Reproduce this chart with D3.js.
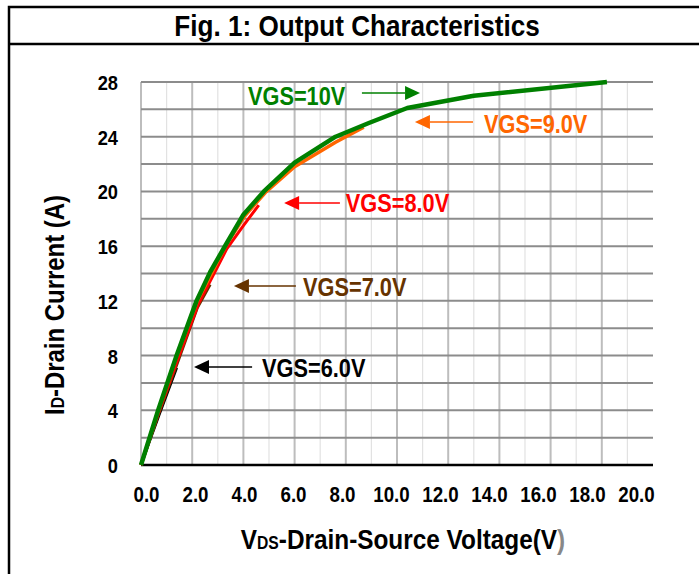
<!DOCTYPE html>
<html><head><meta charset="utf-8">
<script src="https://cdn.jsdelivr.net/npm/d3@7"></script>
<style>
html,body{margin:0;padding:0;background:#fff;}
svg{display:block;}
text{font-family:"Liberation Sans",Arial,sans-serif;font-weight:bold;}
</style></head>
<body>
<script>
// ---- data ----
const seriesNames = ["VGS=6.0V","VGS=7.0V","VGS=8.0V","VGS=9.0V","VGS=10V"];
const seriesColors = ["#000000","#663300","#ff0000","#ff6600","#008000"];
const vgs6V  = [[0,0],[0.7,3.6],[1.4,7.1]];
const vgs7V  = [[0,0],[0.7,3.8],[1.45,7.6],[2.2,11.5],[2.7,13.2]];
const vgs8V  = [[0,0],[0.7,3.9],[1.45,7.8],[2.25,11.8],[3.35,15.8],[4.0,17.5],[4.6,19.0]];
const vgs9V  = [[0,0],[0.68,4],[1.4,8],[2.2,12],[3.3,16],[4.05,18.2],[4.85,19.9],[6.0,21.8],[7.6,23.6],[8.7,24.7]];
const vgs10V = [[0,0],[0.67,4],[1.39,8],[2.17,12],[2.7,14.1],[3.28,16],[4.0,18.3],[4.8,20],[6.0,22.1],[7.6,24.0],[8.9,25.0],[10.4,26.1],[13.0,27.0],[18.2,28.0]];
const xTickLabels = [0,2,4,6,8,10,12,14,16,18,20];
const yTickLabels = [0,4,8,12,16,20,24,28];
// annotation anchors in data units
const annoText = [[4.73,7.09],[6.33,13.0],[8.0,19.15],[13.4,24.9],[4.18,26.97]];
const annoArrow = [[4.34,2.07,7.16],[6.05,3.63,13.08],[7.77,5.59,19.15],[12.97,10.7,25.07],[8.63,10.9,27.2]];

const W=699,H=574,SX=0.87;
const svg=d3.select("body").append("svg").attr("width",W).attr("height",H);

const x=d3.scaleLinear().domain([0,20]).range([141,653]);
const y=d3.scaleLinear().domain([0,28]).range([465,82]);
const xLab=d3.scaleLinear().domain([0,20]).range([146,636]);

function label(parent,px,py,size,anchor,rot){
  const gg=parent.append("g").attr("transform",`translate(${px},${py})${rot?` rotate(${rot})`:""} scale(${SX},1)`);
  return gg.append("text").attr("font-size",size).attr("text-anchor",anchor);
}

// frame
svg.append("path").attr("d","M9,574 V7 H699 M9,44 H699").attr("fill","none").attr("stroke","#000").attr("stroke-width",2.5);
label(svg,357,36,30,"middle").text("Fig. 1: Output Characteristics");

// grid
const g=svg.append("g");
g.selectAll(".vmin").data(d3.range(1,20,2)).join("line")
 .attr("x1",d=>x(d)).attr("x2",d=>x(d)).attr("y1",y(28)).attr("y2",y(0))
 .attr("stroke","#e2e2e2").attr("stroke-width",1.2);
g.selectAll(".vmaj").data(d3.range(0,20,2)).join("line")
 .attr("x1",d=>x(d)).attr("x2",d=>x(d)).attr("y1",y(28)).attr("y2",y(0))
 .attr("stroke","#bdbdbd").attr("stroke-width",2);
g.selectAll(".h").data(d3.range(2,29,2)).join("line")
 .attr("x1",x(0)).attr("x2",x(20)).attr("y1",d=>y(d)).attr("y2",d=>y(d))
 .attr("stroke","#8c8c8c").attr("stroke-width",2);
g.append("line").attr("x1",x(0)).attr("x2",x(20)).attr("y1",y(0)).attr("y2",y(0)).attr("stroke","#000").attr("stroke-width",2.5);

// axes labels
const xa=svg.append("g").attr("transform","translate(0,502)")
 .call(d3.axisBottom(xLab).tickValues(xTickLabels).tickFormat(d3.format(".1f")).tickSize(0).tickPadding(0));
xa.select(".domain").remove();
xa.selectAll("text").attr("font-size",21.5).attr("fill","#000").attr("dy",0).attr("y",0)
 .attr("transform",`scale(${SX},1)`)
 .style("font-family",'"Liberation Sans",Arial,sans-serif').style("font-weight","bold");
const ya=svg.append("g").attr("transform","translate(118,0)")
 .call(d3.axisLeft(y).tickValues(yTickLabels).tickFormat(d3.format("d")).tickSize(0).tickPadding(0));
ya.select(".domain").remove();
ya.selectAll("text").attr("font-size",21).attr("fill","#000").attr("dy","0.36em")
 .attr("transform",`scale(${SX},1)`)
 .style("font-family",'"Liberation Sans",Arial,sans-serif').style("font-weight","bold");

// axis titles
const xt=label(svg,403,549,28,"middle");
xt.append("tspan").text("V");
xt.append("tspan").attr("font-size",18).text("DS");
xt.append("tspan").text("-Drain-Source Voltage(V");
xt.append("tspan").attr("fill","#888").text(")");
const yt=label(svg,64,305,27.5,"middle",-90);
yt.append("tspan").text("I");
yt.append("tspan").attr("font-size",18).text("D");
yt.append("tspan").text("-Drain Current (A)");

// curves
const line=d3.line().x(d=>x(d[0])).y(d=>y(d[1]));
const all=[vgs6V,vgs7V,vgs8V,vgs9V,vgs10V];
const widths=[2.5,3,3,3.5,4.5];
svg.append("g").selectAll("path").data(all).join("path")
 .attr("d",line).attr("fill","none").attr("stroke",(d,i)=>seriesColors[i]).attr("stroke-width",(d,i)=>widths[i]).attr("stroke-linejoin","round");

// annotations
const ag=svg.append("g");
seriesNames.forEach((n,i)=>{
  const c=seriesColors[i];
  const [tx,ty]=annoText[i];
  label(ag,x(tx),y(ty),25,"start").attr("dy","0.36em").attr("fill",c).text(n);
  const [a0,a1,ay]=annoArrow[i];
  const x0=x(a0),x1=x(a1),yy=y(ay);
  const dir=Math.sign(x1-x0);
  const hl=15,hw=7;
  ag.append("line").attr("x1",x0).attr("x2",x1-dir*hl).attr("y1",yy).attr("y2",yy).attr("stroke",c).attr("stroke-width",1.5);
  ag.append("path").attr("d",`M${x1},${yy} L${x1-dir*hl},${yy-hw} L${x1-dir*hl},${yy+hw} Z`).attr("fill",c);
});
</script>
</body></html>
